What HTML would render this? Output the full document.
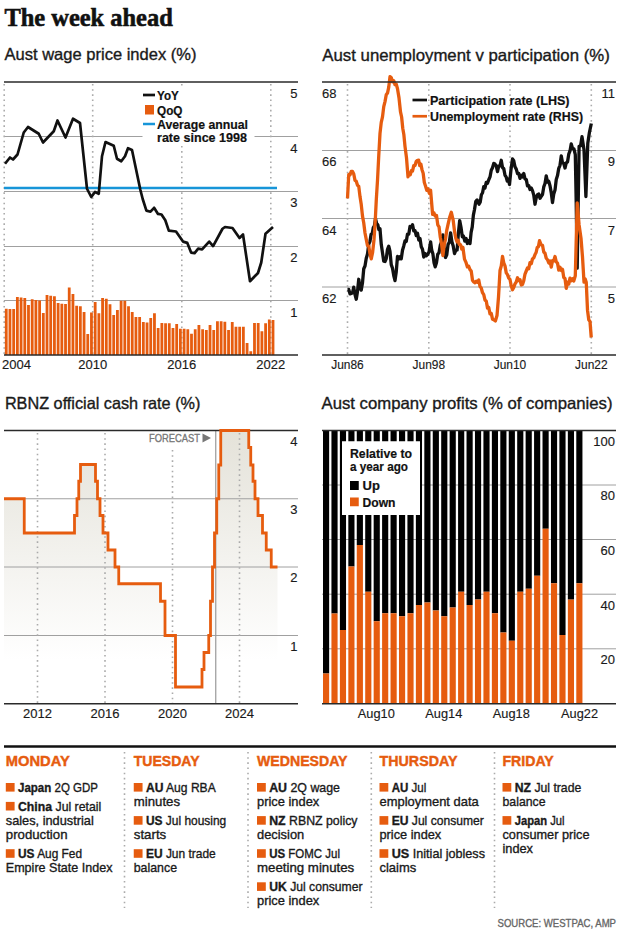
<!DOCTYPE html>
<html><head><meta charset="utf-8"><title>The week ahead</title>
<style>
html,body{margin:0;padding:0;background:#fff;}
body{width:620px;height:932px;overflow:hidden;}
svg{display:block;font-family:"Liberation Sans", sans-serif;}
</style></head><body>
<svg width="620" height="932" viewBox="0 0 620 932">
<rect width="620" height="932" fill="#fff"/>
<text x="4.4" y="26" font-size="25.5" font-weight="bold" font-family='"Liberation Serif", serif' fill="#111" stroke="#111" stroke-width="0.6" text-anchor="start" textLength="168.4" lengthAdjust="spacingAndGlyphs" >The week ahead</text>
<text x="4.5" y="60.3" font-size="16.5" fill="#1a1a1a" stroke="#1a1a1a" stroke-width="0.35" text-anchor="start" textLength="192" lengthAdjust="spacingAndGlyphs" >Aust wage price index (%)</text>
<text x="322.3" y="60.6" font-size="16.5" fill="#1a1a1a" stroke="#1a1a1a" stroke-width="0.35" text-anchor="start" textLength="287.5" lengthAdjust="spacingAndGlyphs" >Aust unemployment v participation (%)</text>
<text x="4.9" y="408.6" font-size="16.5" fill="#1a1a1a" stroke="#1a1a1a" stroke-width="0.35" text-anchor="start" textLength="195.5" lengthAdjust="spacingAndGlyphs" >RBNZ official cash rate (%)</text>
<text x="321.5" y="408.6" font-size="16.5" fill="#1a1a1a" stroke="#1a1a1a" stroke-width="0.35" text-anchor="start" textLength="291" lengthAdjust="spacingAndGlyphs" >Aust company profits (% of companies)</text>
<line x1="4" y1="136.5" x2="298" y2="136.5" stroke="#a0a0a0" stroke-width="1"/>
<line x1="4" y1="191.5" x2="298" y2="191.5" stroke="#a0a0a0" stroke-width="1"/>
<line x1="4" y1="246.5" x2="298" y2="246.5" stroke="#a0a0a0" stroke-width="1"/>
<line x1="4" y1="300.5" x2="298" y2="300.5" stroke="#a0a0a0" stroke-width="1"/>
<line x1="4.2" y1="84" x2="4.2" y2="354" stroke="#ababab" stroke-width="1.6" stroke-dasharray="1.6 3.56"/>
<line x1="92.7" y1="84" x2="92.7" y2="354" stroke="#ababab" stroke-width="1.6" stroke-dasharray="1.6 3.56"/>
<line x1="181.8" y1="84" x2="181.8" y2="354" stroke="#ababab" stroke-width="1.6" stroke-dasharray="1.6 3.56"/>
<line x1="270.8" y1="84" x2="270.8" y2="354" stroke="#ababab" stroke-width="1.6" stroke-dasharray="1.6 3.56"/>
<rect x="4.85" y="308.75" width="2.8" height="46.25" fill="#e65c0f"/>
<rect x="8.55" y="309.00" width="2.8" height="46.00" fill="#e65c0f"/>
<rect x="12.26" y="309.00" width="2.8" height="46.00" fill="#e65c0f"/>
<rect x="15.97" y="297.00" width="2.8" height="58.00" fill="#e65c0f"/>
<rect x="19.67" y="297.50" width="2.8" height="57.50" fill="#e65c0f"/>
<rect x="23.38" y="298.00" width="2.8" height="57.00" fill="#e65c0f"/>
<rect x="27.08" y="305.00" width="2.8" height="50.00" fill="#e65c0f"/>
<rect x="30.79" y="299.25" width="2.8" height="55.75" fill="#e65c0f"/>
<rect x="34.49" y="300.00" width="2.8" height="55.00" fill="#e65c0f"/>
<rect x="38.20" y="300.50" width="2.8" height="54.50" fill="#e65c0f"/>
<rect x="41.90" y="313.00" width="2.8" height="42.00" fill="#e65c0f"/>
<rect x="45.61" y="295.00" width="2.8" height="60.00" fill="#e65c0f"/>
<rect x="49.31" y="295.75" width="2.8" height="59.25" fill="#e65c0f"/>
<rect x="53.02" y="296.25" width="2.8" height="58.75" fill="#e65c0f"/>
<rect x="56.72" y="303.00" width="2.8" height="52.00" fill="#e65c0f"/>
<rect x="60.43" y="303.75" width="2.8" height="51.25" fill="#e65c0f"/>
<rect x="64.13" y="304.00" width="2.8" height="51.00" fill="#e65c0f"/>
<rect x="67.83" y="287.50" width="2.8" height="67.50" fill="#e65c0f"/>
<rect x="71.54" y="294.00" width="2.8" height="61.00" fill="#e65c0f"/>
<rect x="75.24" y="305.75" width="2.8" height="49.25" fill="#e65c0f"/>
<rect x="78.95" y="306.25" width="2.8" height="48.75" fill="#e65c0f"/>
<rect x="82.66" y="312.00" width="2.8" height="43.00" fill="#e65c0f"/>
<rect x="86.36" y="334.00" width="2.8" height="21.00" fill="#e65c0f"/>
<rect x="90.06" y="312.50" width="2.8" height="42.50" fill="#e65c0f"/>
<rect x="93.77" y="302.00" width="2.8" height="53.00" fill="#e65c0f"/>
<rect x="97.47" y="313.25" width="2.8" height="41.75" fill="#e65c0f"/>
<rect x="101.18" y="298.00" width="2.8" height="57.00" fill="#e65c0f"/>
<rect x="104.88" y="298.75" width="2.8" height="56.25" fill="#e65c0f"/>
<rect x="108.59" y="304.25" width="2.8" height="50.75" fill="#e65c0f"/>
<rect x="112.30" y="315.00" width="2.8" height="40.00" fill="#e65c0f"/>
<rect x="116.00" y="310.00" width="2.8" height="45.00" fill="#e65c0f"/>
<rect x="119.70" y="300.75" width="2.8" height="54.25" fill="#e65c0f"/>
<rect x="123.41" y="300.75" width="2.8" height="54.25" fill="#e65c0f"/>
<rect x="127.11" y="306.25" width="2.8" height="48.75" fill="#e65c0f"/>
<rect x="130.82" y="312.00" width="2.8" height="43.00" fill="#e65c0f"/>
<rect x="134.53" y="317.00" width="2.8" height="38.00" fill="#e65c0f"/>
<rect x="138.23" y="317.00" width="2.8" height="38.00" fill="#e65c0f"/>
<rect x="141.94" y="322.00" width="2.8" height="33.00" fill="#e65c0f"/>
<rect x="145.64" y="322.50" width="2.8" height="32.50" fill="#e65c0f"/>
<rect x="149.34" y="318.00" width="2.8" height="37.00" fill="#e65c0f"/>
<rect x="153.05" y="313.25" width="2.8" height="41.75" fill="#e65c0f"/>
<rect x="156.75" y="328.00" width="2.8" height="27.00" fill="#e65c0f"/>
<rect x="160.46" y="323.00" width="2.8" height="32.00" fill="#e65c0f"/>
<rect x="164.16" y="323.25" width="2.8" height="31.75" fill="#e65c0f"/>
<rect x="167.87" y="323.25" width="2.8" height="31.75" fill="#e65c0f"/>
<rect x="171.57" y="328.00" width="2.8" height="27.00" fill="#e65c0f"/>
<rect x="175.28" y="324.00" width="2.8" height="31.00" fill="#e65c0f"/>
<rect x="178.98" y="328.75" width="2.8" height="26.25" fill="#e65c0f"/>
<rect x="182.69" y="328.75" width="2.8" height="26.25" fill="#e65c0f"/>
<rect x="186.40" y="329.25" width="2.8" height="25.75" fill="#e65c0f"/>
<rect x="190.10" y="333.75" width="2.8" height="21.25" fill="#e65c0f"/>
<rect x="193.81" y="329.25" width="2.8" height="25.75" fill="#e65c0f"/>
<rect x="197.51" y="325.00" width="2.8" height="30.00" fill="#e65c0f"/>
<rect x="201.22" y="329.25" width="2.8" height="25.75" fill="#e65c0f"/>
<rect x="204.92" y="330.00" width="2.8" height="25.00" fill="#e65c0f"/>
<rect x="208.62" y="325.00" width="2.8" height="30.00" fill="#e65c0f"/>
<rect x="212.33" y="330.00" width="2.8" height="25.00" fill="#e65c0f"/>
<rect x="216.03" y="321.25" width="2.8" height="33.75" fill="#e65c0f"/>
<rect x="219.74" y="321.25" width="2.8" height="33.75" fill="#e65c0f"/>
<rect x="223.44" y="321.75" width="2.8" height="33.25" fill="#e65c0f"/>
<rect x="227.15" y="330.00" width="2.8" height="25.00" fill="#e65c0f"/>
<rect x="230.85" y="322.00" width="2.8" height="33.00" fill="#e65c0f"/>
<rect x="234.56" y="326.75" width="2.8" height="28.25" fill="#e65c0f"/>
<rect x="238.26" y="326.75" width="2.8" height="28.25" fill="#e65c0f"/>
<rect x="241.97" y="326.75" width="2.8" height="28.25" fill="#e65c0f"/>
<rect x="245.68" y="343.00" width="2.8" height="12.00" fill="#e65c0f"/>
<rect x="249.38" y="351.25" width="2.8" height="3.75" fill="#e65c0f"/>
<rect x="253.09" y="323.00" width="2.8" height="32.00" fill="#e65c0f"/>
<rect x="256.79" y="323.00" width="2.8" height="32.00" fill="#e65c0f"/>
<rect x="260.50" y="331.25" width="2.8" height="23.75" fill="#e65c0f"/>
<rect x="264.20" y="323.25" width="2.8" height="31.75" fill="#e65c0f"/>
<rect x="267.91" y="319.50" width="2.8" height="35.50" fill="#e65c0f"/>
<rect x="271.61" y="320.00" width="2.8" height="35.00" fill="#e65c0f"/>
<rect x="142.5" y="86" width="112" height="58" fill="#fff"/>
<line x1="4" y1="188" x2="277" y2="188" stroke="#1795d8" stroke-width="2.5"/>
<polyline points="5.00,163.75 10.00,157.50 13.00,159.50 17.50,154.50 23.75,132.50 28.00,127.00 38.75,133.75 43.00,142.50 53.75,131.25 57.50,120.50 65.50,137.50 73.00,118.75 80.00,123.00 87.00,188.75 91.25,197.00 95.00,192.00 98.75,193.75 102.00,156.25 105.50,142.00 113.75,145.75 117.00,158.75 121.25,161.25 125.00,156.25 128.00,148.25 132.00,150.00 140.40,190.00 142.70,199.00 146.40,210.60 150.50,211.70 154.10,207.80 158.00,213.90 161.50,214.50 165.30,220.30 168.80,230.60 176.00,231.50 183.00,241.60 187.30,242.90 191.10,252.60 194.60,253.20 198.20,248.70 202.10,249.40 209.20,241.60 213.10,246.10 222.50,228.75 225.00,227.00 232.50,228.00 239.50,238.00 243.00,234.50 250.00,281.25 258.00,273.00 261.25,262.50 265.50,233.75 273.00,227.00" fill="none" stroke="#111" stroke-width="2.7" stroke-linejoin="round"/>
<line x1="4" y1="82" x2="298" y2="82" stroke="#2a2a2a" stroke-width="1.35"/>
<line x1="4" y1="355" x2="298" y2="355" stroke="#2a2a2a" stroke-width="1.35"/>
<line x1="143" y1="95" x2="155" y2="95" stroke="#111" stroke-width="2.7"/>
<rect x="145" y="105" width="9" height="9.5" fill="#e65c0f"/>
<line x1="143" y1="124" x2="155" y2="124" stroke="#1795d8" stroke-width="2.5"/>
<text x="157" y="99.5" font-size="13" font-weight="bold" fill="#111" stroke="#111" stroke-width="0.2" text-anchor="start" textLength="21.75" lengthAdjust="spacingAndGlyphs" >YoY</text>
<text x="157" y="114.5" font-size="13" font-weight="bold" fill="#111" stroke="#111" stroke-width="0.2" text-anchor="start" textLength="25.5" lengthAdjust="spacingAndGlyphs" >QoQ</text>
<text x="157" y="129" font-size="13" font-weight="bold" fill="#111" stroke="#111" stroke-width="0.2" text-anchor="start" textLength="91" lengthAdjust="spacingAndGlyphs" >Average annual</text>
<text x="157" y="142" font-size="13" font-weight="bold" fill="#111" stroke="#111" stroke-width="0.2" text-anchor="start" textLength="90" lengthAdjust="spacingAndGlyphs" >rate since 1998</text>
<text x="297.5" y="98" font-size="13" fill="#1a1a1a" stroke="#1a1a1a" stroke-width="0.15" text-anchor="end" >5</text>
<text x="297.5" y="152.5" font-size="13" fill="#1a1a1a" stroke="#1a1a1a" stroke-width="0.15" text-anchor="end" >4</text>
<text x="297.5" y="207" font-size="13" fill="#1a1a1a" stroke="#1a1a1a" stroke-width="0.15" text-anchor="end" >3</text>
<text x="297.5" y="262" font-size="13" fill="#1a1a1a" stroke="#1a1a1a" stroke-width="0.15" text-anchor="end" >2</text>
<text x="297.5" y="316.5" font-size="13" fill="#1a1a1a" stroke="#1a1a1a" stroke-width="0.15" text-anchor="end" >1</text>
<text x="16.5" y="369.3" font-size="13" fill="#1a1a1a" stroke="#1a1a1a" stroke-width="0.15" text-anchor="middle" >2004</text>
<text x="92.7" y="369.3" font-size="13" fill="#1a1a1a" stroke="#1a1a1a" stroke-width="0.15" text-anchor="middle" >2010</text>
<text x="181.8" y="369.3" font-size="13" fill="#1a1a1a" stroke="#1a1a1a" stroke-width="0.15" text-anchor="middle" >2016</text>
<text x="270.8" y="369.3" font-size="13" fill="#1a1a1a" stroke="#1a1a1a" stroke-width="0.15" text-anchor="middle" >2022</text>
<line x1="322" y1="150.5" x2="616" y2="150.5" stroke="#a0a0a0" stroke-width="1"/>
<line x1="322" y1="218.5" x2="616" y2="218.5" stroke="#a0a0a0" stroke-width="1"/>
<line x1="322" y1="287" x2="616" y2="287" stroke="#a0a0a0" stroke-width="1"/>
<line x1="347.5" y1="84" x2="347.5" y2="354" stroke="#ababab" stroke-width="1.6" stroke-dasharray="1.6 3.56"/>
<line x1="428.8" y1="84" x2="428.8" y2="354" stroke="#ababab" stroke-width="1.6" stroke-dasharray="1.6 3.56"/>
<line x1="510" y1="84" x2="510" y2="354" stroke="#ababab" stroke-width="1.6" stroke-dasharray="1.6 3.56"/>
<line x1="591.3" y1="84" x2="591.3" y2="354" stroke="#ababab" stroke-width="1.6" stroke-dasharray="1.6 3.56"/>
<polyline points="347.50,289.47 348.75,289.44 350.00,293.93 351.25,293.47 352.50,292.83 353.75,287.16 355.00,294.60 356.25,299.21 357.50,291.40 358.75,279.28 360.00,288.02 361.25,290.02 362.50,282.67 363.75,268.75 365.00,265.98 366.25,258.22 367.50,254.10 368.75,244.14 370.00,241.35 371.10,234.17 372.20,233.68 373.30,227.66 374.40,225.87 375.50,218.50 376.62,223.36 377.75,224.73 378.88,229.60 380.00,228.76 381.25,244.28 382.50,252.87 383.75,261.15 385.00,261.52 386.25,258.57 387.50,249.29 388.75,246.18 390.00,251.49 391.25,264.63 392.50,268.34 393.75,275.50 395.00,280.57 396.25,271.70 397.50,256.34 398.75,259.08 400.00,256.64 401.25,258.82 402.50,250.20 403.75,245.97 405.00,241.01 406.25,241.49 407.50,234.06 408.75,234.20 410.00,226.51 411.25,227.08 412.50,224.70 413.75,230.84 415.00,230.69 416.25,235.53 417.50,233.30 418.75,240.00 420.00,238.55 421.25,246.77 422.50,249.34 423.75,257.03 425.00,253.54 426.25,255.83 427.50,254.66 429.05,251.68 430.60,241.82 431.75,250.39 432.90,253.84 434.05,262.70 435.20,266.87 436.47,262.65 437.73,254.31 439.00,252.72 440.30,245.17 441.60,241.89 442.90,234.90 444.20,248.58 445.50,257.47 446.77,254.74 448.05,244.44 449.33,242.31 450.60,232.80 451.90,241.68 453.20,246.03 454.50,253.52 455.80,250.43 457.10,250.03 458.40,233.10 459.70,220.54 461.00,227.21 462.30,236.79 463.55,236.29 464.80,241.19 466.10,238.49 467.40,243.47 468.70,240.77 470.00,243.51 471.12,232.41 472.25,226.82 473.38,215.14 474.50,209.53 475.80,201.34 477.10,199.97 479.00,204.18 480.19,202.15 481.38,194.72 482.56,192.72 483.75,186.64 485.00,187.98 486.25,182.40 487.50,183.28 488.75,179.77 490.00,176.95 491.25,170.19 492.50,167.74 493.75,163.45 495.00,164.09 496.25,165.92 497.50,171.58 498.75,165.86 500.00,165.86 501.25,160.27 502.50,167.59 503.75,168.59 505.00,175.25 506.12,176.85 507.25,181.06 508.38,179.24 509.50,184.50 511.00,169.42 512.50,159.00 513.75,160.76 515.00,166.83 516.25,169.11 517.50,173.51 518.75,173.49 520.00,178.36 521.25,175.22 522.50,176.90 523.75,173.49 525.00,178.95 526.25,179.43 527.50,185.88 528.75,185.56 530.00,189.47 531.25,188.02 532.50,190.61 533.75,195.09 535.00,204.24 536.25,197.70 537.50,194.66 538.75,194.07 540.00,198.28 541.25,196.34 542.50,194.58 543.75,186.93 545.00,183.44 546.25,175.87 547.50,182.15 548.75,181.31 550.00,185.70 551.25,192.66 552.50,202.62 553.75,194.07 555.00,190.10 556.25,179.52 557.50,175.60 558.75,168.35 560.00,165.31 561.25,155.89 562.50,162.81 563.75,163.21 565.00,167.99 566.25,162.91 567.50,161.95 568.75,154.20 570.00,150.96 571.25,143.88 572.60,148.62 573.95,148.90 575.30,154.73 576.20,202.16 577.20,268.21 579.10,146.32 580.55,145.94 582.00,136.63 584.00,149.76 585.90,196.51 587.80,143.14 589.40,132.51 591.30,123.50" fill="none" stroke="#111" stroke-width="3.3" stroke-linejoin="round"/>
<polyline points="347.50,198.41 348.75,174.47 350.00,174.97 351.25,171.31 352.50,171.38 353.75,174.00 355.00,180.33 356.25,181.18 357.50,185.28 358.75,186.35 360.00,196.60 361.25,204.60 362.50,216.13 363.75,222.98 365.00,232.97 366.25,239.31 367.50,245.75 368.75,246.05 370.00,253.97 371.25,258.93 372.62,252.35 374.00,239.70 375.17,222.09 376.33,199.16 377.50,180.52 378.75,155.79 380.00,133.38 381.25,122.38 382.50,116.85 383.75,106.65 385.00,101.61 386.25,94.81 387.50,93.07 388.75,87.16 390.00,76.58 391.25,77.47 392.50,81.70 393.75,80.73 395.00,84.64 396.25,84.14 397.50,88.70 399.00,97.89 400.50,111.95 401.62,117.01 402.75,128.24 403.88,134.79 405.00,146.36 406.50,157.87 408.00,176.80 409.12,172.92 410.25,174.86 411.38,170.79 412.50,171.12 413.75,165.63 415.00,165.53 416.25,161.22 417.50,160.29 418.62,160.20 419.75,165.63 420.88,164.16 422.00,169.63 423.17,173.28 424.33,182.56 425.50,185.99 426.77,190.25 428.05,188.85 429.33,193.37 430.60,190.32 432.60,214.44 433.90,212.84 435.20,216.13 436.50,215.36 437.77,224.76 439.03,226.78 440.30,237.21 441.60,244.02 442.90,255.55 444.20,245.08 445.50,239.25 446.80,230.03 448.10,224.07 449.70,217.24 451.30,212.23 453.20,220.41 454.50,231.13 455.80,238.26 456.98,241.79 458.17,240.35 459.35,244.58 460.53,244.75 461.72,249.08 462.90,247.26 464.50,259.10 466.10,262.70 467.40,266.91 468.70,266.29 470.00,269.69 471.25,271.15 472.50,280.21 473.75,281.97 475.00,282.78 476.25,281.16 477.50,282.28 478.75,279.98 480.00,286.50 481.25,287.97 482.50,292.71 483.75,294.71 485.00,300.18 486.25,301.05 487.50,308.13 488.75,307.45 490.00,313.83 491.25,313.44 492.50,319.19 493.75,319.68 495.38,320.93 497.00,315.58 498.50,297.12 500.00,270.54 501.25,266.06 502.50,256.42 503.75,262.93 505.00,265.90 506.25,272.84 507.50,274.65 508.75,278.16 510.00,279.44 511.25,285.95 512.50,289.68 513.75,287.39 515.00,283.84 516.25,281.99 517.50,277.75 518.75,280.57 520.00,279.75 521.25,284.99 522.50,284.47 523.75,280.75 525.00,274.04 526.25,271.00 527.50,267.86 528.75,268.73 530.00,262.62 531.25,263.73 532.50,258.74 533.75,257.89 535.00,254.58 536.12,252.52 537.25,247.34 538.38,246.71 539.50,240.69 541.00,244.63 542.50,245.21 543.75,251.99 545.00,253.23 546.25,258.27 547.50,259.74 548.75,263.03 550.00,260.98 551.25,267.10 552.50,260.77 553.75,260.77 555.00,256.49 556.25,261.82 557.50,263.10 558.75,270.12 560.00,267.25 561.25,270.51 562.50,269.31 563.75,277.40 565.00,278.47 566.25,288.33 567.50,282.19 568.75,284.08 570.00,278.17 571.25,280.70 572.50,278.66 573.75,280.98 575.30,275.74 577.20,202.96 579.10,224.99 581.00,238.17 582.50,256.93 584.00,282.20 585.12,278.77 586.25,282.26 587.50,310.13 588.75,319.80 590.00,321.50 591.25,337.50" fill="none" stroke="#e65c0f" stroke-width="3.3" stroke-linejoin="round"/>
<line x1="322" y1="82" x2="616" y2="82" stroke="#2a2a2a" stroke-width="1.35"/>
<line x1="322" y1="355" x2="616" y2="355" stroke="#2a2a2a" stroke-width="1.35"/>
<line x1="412.5" y1="100" x2="427" y2="100" stroke="#111" stroke-width="2.7"/>
<line x1="412.5" y1="116.25" x2="427" y2="116.25" stroke="#e65c0f" stroke-width="2.7"/>
<text x="430" y="104.5" font-size="13" font-weight="bold" fill="#111" stroke="#111" stroke-width="0.2" text-anchor="start" textLength="139.5" lengthAdjust="spacingAndGlyphs" >Participation rate (LHS)</text>
<text x="430" y="121" font-size="13" font-weight="bold" fill="#111" stroke="#111" stroke-width="0.2" text-anchor="start" textLength="153" lengthAdjust="spacingAndGlyphs" >Unemployment rate (RHS)</text>
<text x="322" y="98" font-size="13" fill="#1a1a1a" stroke="#1a1a1a" stroke-width="0.15" text-anchor="start" >68</text>
<text x="322" y="166.3" font-size="13" fill="#1a1a1a" stroke="#1a1a1a" stroke-width="0.15" text-anchor="start" >66</text>
<text x="322" y="234.5" font-size="13" fill="#1a1a1a" stroke="#1a1a1a" stroke-width="0.15" text-anchor="start" >64</text>
<text x="322" y="303" font-size="13" fill="#1a1a1a" stroke="#1a1a1a" stroke-width="0.15" text-anchor="start" >62</text>
<text x="615" y="98" font-size="13" fill="#1a1a1a" stroke="#1a1a1a" stroke-width="0.15" text-anchor="end" >11</text>
<text x="615" y="166.3" font-size="13" fill="#1a1a1a" stroke="#1a1a1a" stroke-width="0.15" text-anchor="end" >9</text>
<text x="615" y="234.5" font-size="13" fill="#1a1a1a" stroke="#1a1a1a" stroke-width="0.15" text-anchor="end" >7</text>
<text x="615" y="303" font-size="13" fill="#1a1a1a" stroke="#1a1a1a" stroke-width="0.15" text-anchor="end" >5</text>
<text x="347.5" y="369.3" font-size="13" fill="#1a1a1a" stroke="#1a1a1a" stroke-width="0.15" text-anchor="middle" textLength="32.5" lengthAdjust="spacingAndGlyphs" >Jun86</text>
<text x="428.8" y="369.3" font-size="13" fill="#1a1a1a" stroke="#1a1a1a" stroke-width="0.15" text-anchor="middle" textLength="32.5" lengthAdjust="spacingAndGlyphs" >Jun98</text>
<text x="510" y="369.3" font-size="13" fill="#1a1a1a" stroke="#1a1a1a" stroke-width="0.15" text-anchor="middle" textLength="32.5" lengthAdjust="spacingAndGlyphs" >Jun10</text>
<text x="591.3" y="369.3" font-size="13" fill="#1a1a1a" stroke="#1a1a1a" stroke-width="0.15" text-anchor="middle" textLength="32.5" lengthAdjust="spacingAndGlyphs" >Jun22</text>
<defs><linearGradient id="g3" x1="0" y1="430" x2="0" y2="660" gradientUnits="userSpaceOnUse"><stop offset="0" stop-color="#e4e2d9"/><stop offset="1" stop-color="#ffffff"/></linearGradient></defs>
<polygon points="4.00,498.75 24.25,498.75 24.25,533.00 74.50,533.00 74.50,515.50 77.00,515.50 77.00,498.75 78.75,498.75 78.75,481.25 80.50,481.25 80.50,464.50 95.50,464.50 95.50,481.25 97.50,481.25 97.50,498.75 100.00,498.75 100.00,515.50 103.00,515.50 103.00,533.00 108.00,533.00 108.00,550.00 115.00,550.00 115.00,567.00 118.75,567.00 118.75,583.75 160.50,583.75 160.50,601.25 165.00,601.25 165.00,635.50 175.50,635.50 175.50,687.00 202.00,687.00 202.00,669.50 204.00,669.50 204.00,652.50 208.75,652.50 208.75,635.50 210.50,635.50 210.50,601.25 212.50,601.25 212.50,567.00 214.50,567.00 214.50,533.00 216.75,533.00 216.75,498.75 218.75,498.75 218.75,465.00 220.75,465.00 220.75,430.50 248.75,430.50 248.75,447.50 250.75,447.50 250.75,465.00 253.00,465.00 253.00,481.25 255.00,481.25 255.00,498.75 258.00,498.75 258.00,515.50 262.50,515.50 262.50,533.00 266.25,533.00 266.25,550.00 271.25,550.00 271.25,567.00 277.50,567.00 277.50,703.75 4.00,703.75" fill="url(#g3)"/>
<line x1="4" y1="498.75" x2="298" y2="498.75" stroke="#a0a0a0" stroke-width="1"/>
<line x1="4" y1="567" x2="298" y2="567" stroke="#a0a0a0" stroke-width="1"/>
<line x1="4" y1="635.5" x2="298" y2="635.5" stroke="#a0a0a0" stroke-width="1"/>
<line x1="37.5" y1="433" x2="37.5" y2="703" stroke="#ababab" stroke-width="1.6" stroke-dasharray="1.6 3.56"/>
<line x1="105" y1="433" x2="105" y2="703" stroke="#ababab" stroke-width="1.6" stroke-dasharray="1.6 3.56"/>
<line x1="239.5" y1="433" x2="239.5" y2="703" stroke="#ababab" stroke-width="1.6" stroke-dasharray="1.6 3.56"/>
<line x1="172.5" y1="450" x2="172.5" y2="703" stroke="#ababab" stroke-width="1.6" stroke-dasharray="1.6 3.56"/>
<line x1="215.75" y1="430.5" x2="215.75" y2="703.75" stroke="#999" stroke-width="1.2"/>
<line x1="4" y1="430.5" x2="298" y2="430.5" stroke="#2a2a2a" stroke-width="1.35"/>
<line x1="4" y1="703.75" x2="298" y2="703.75" stroke="#2a2a2a" stroke-width="1.35"/>
<polyline points="4.00,498.75 24.25,498.75 24.25,533.00 74.50,533.00 74.50,515.50 77.00,515.50 77.00,498.75 78.75,498.75 78.75,481.25 80.50,481.25 80.50,464.50 95.50,464.50 95.50,481.25 97.50,481.25 97.50,498.75 100.00,498.75 100.00,515.50 103.00,515.50 103.00,533.00 108.00,533.00 108.00,550.00 115.00,550.00 115.00,567.00 118.75,567.00 118.75,583.75 160.50,583.75 160.50,601.25 165.00,601.25 165.00,635.50 175.50,635.50 175.50,687.00 202.00,687.00 202.00,669.50 204.00,669.50 204.00,652.50 208.75,652.50 208.75,635.50 210.50,635.50 210.50,601.25 212.50,601.25 212.50,567.00 214.50,567.00 214.50,533.00 216.75,533.00 216.75,498.75 218.75,498.75 218.75,465.00 220.75,465.00 220.75,430.50 248.75,430.50 248.75,447.50 250.75,447.50 250.75,465.00 253.00,465.00 253.00,481.25 255.00,481.25 255.00,498.75 258.00,498.75 258.00,515.50 262.50,515.50 262.50,533.00 266.25,533.00 266.25,550.00 271.25,550.00 271.25,567.00 277.50,567.00" fill="none" stroke="#e65c0f" stroke-width="2.8" stroke-linejoin="miter"/>
<text x="149" y="442" font-size="11.5" fill="#777" stroke="#777" stroke-width="0.35" text-anchor="start" textLength="51" lengthAdjust="spacingAndGlyphs" >FORECAST</text>
<path d="M202.5,433.5 L211,438 L202.5,442.5 Z" fill="#777"/>
<text x="297.5" y="445.9" font-size="13" fill="#1a1a1a" stroke="#1a1a1a" stroke-width="0.15" text-anchor="end" >4</text>
<text x="297.5" y="514.2" font-size="13" fill="#1a1a1a" stroke="#1a1a1a" stroke-width="0.15" text-anchor="end" >3</text>
<text x="297.5" y="582.4" font-size="13" fill="#1a1a1a" stroke="#1a1a1a" stroke-width="0.15" text-anchor="end" >2</text>
<text x="297.5" y="650.9" font-size="13" fill="#1a1a1a" stroke="#1a1a1a" stroke-width="0.15" text-anchor="end" >1</text>
<text x="37.5" y="718" font-size="13" fill="#1a1a1a" stroke="#1a1a1a" stroke-width="0.15" text-anchor="middle" >2012</text>
<text x="105" y="718" font-size="13" fill="#1a1a1a" stroke="#1a1a1a" stroke-width="0.15" text-anchor="middle" >2016</text>
<text x="172.5" y="718" font-size="13" fill="#1a1a1a" stroke="#1a1a1a" stroke-width="0.15" text-anchor="middle" >2020</text>
<text x="239.5" y="718" font-size="13" fill="#1a1a1a" stroke="#1a1a1a" stroke-width="0.15" text-anchor="middle" >2024</text>
<line x1="322" y1="485" x2="616" y2="485" stroke="#a0a0a0" stroke-width="1"/>
<line x1="322" y1="539.5" x2="616" y2="539.5" stroke="#a0a0a0" stroke-width="1"/>
<line x1="322" y1="594.2" x2="616" y2="594.2" stroke="#a0a0a0" stroke-width="1"/>
<line x1="322" y1="648.8" x2="616" y2="648.8" stroke="#a0a0a0" stroke-width="1"/>
<rect x="323.00" y="430.5" width="6.15" height="243.00" fill="#000"/>
<rect x="323.00" y="673.50" width="6.15" height="30.25" fill="#e65c0f"/>
<rect x="331.44" y="430.5" width="6.15" height="183.00" fill="#000"/>
<rect x="331.44" y="613.50" width="6.15" height="90.25" fill="#e65c0f"/>
<rect x="339.89" y="430.5" width="6.15" height="199.50" fill="#000"/>
<rect x="339.89" y="630.00" width="6.15" height="73.75" fill="#e65c0f"/>
<rect x="348.33" y="430.5" width="6.15" height="136.00" fill="#000"/>
<rect x="348.33" y="566.50" width="6.15" height="137.25" fill="#e65c0f"/>
<rect x="356.77" y="430.5" width="6.15" height="114.50" fill="#000"/>
<rect x="356.77" y="545.00" width="6.15" height="158.75" fill="#e65c0f"/>
<rect x="365.21" y="430.5" width="6.15" height="161.25" fill="#000"/>
<rect x="365.21" y="591.75" width="6.15" height="112.00" fill="#e65c0f"/>
<rect x="373.66" y="430.5" width="6.15" height="190.75" fill="#000"/>
<rect x="373.66" y="621.25" width="6.15" height="82.50" fill="#e65c0f"/>
<rect x="382.10" y="430.5" width="6.15" height="182.75" fill="#000"/>
<rect x="382.10" y="613.25" width="6.15" height="90.50" fill="#e65c0f"/>
<rect x="390.54" y="430.5" width="6.15" height="182.75" fill="#000"/>
<rect x="390.54" y="613.25" width="6.15" height="90.50" fill="#e65c0f"/>
<rect x="398.99" y="430.5" width="6.15" height="185.75" fill="#000"/>
<rect x="398.99" y="616.25" width="6.15" height="87.50" fill="#e65c0f"/>
<rect x="407.43" y="430.5" width="6.15" height="182.75" fill="#000"/>
<rect x="407.43" y="613.25" width="6.15" height="90.50" fill="#e65c0f"/>
<rect x="415.87" y="430.5" width="6.15" height="174.50" fill="#000"/>
<rect x="415.87" y="605.00" width="6.15" height="98.75" fill="#e65c0f"/>
<rect x="424.32" y="430.5" width="6.15" height="172.00" fill="#000"/>
<rect x="424.32" y="602.50" width="6.15" height="101.25" fill="#e65c0f"/>
<rect x="432.76" y="430.5" width="6.15" height="180.00" fill="#000"/>
<rect x="432.76" y="610.50" width="6.15" height="93.25" fill="#e65c0f"/>
<rect x="441.20" y="430.5" width="6.15" height="185.75" fill="#000"/>
<rect x="441.20" y="616.25" width="6.15" height="87.50" fill="#e65c0f"/>
<rect x="449.64" y="430.5" width="6.15" height="177.00" fill="#000"/>
<rect x="449.64" y="607.50" width="6.15" height="96.25" fill="#e65c0f"/>
<rect x="458.09" y="430.5" width="6.15" height="161.25" fill="#000"/>
<rect x="458.09" y="591.75" width="6.15" height="112.00" fill="#e65c0f"/>
<rect x="466.53" y="430.5" width="6.15" height="174.50" fill="#000"/>
<rect x="466.53" y="605.00" width="6.15" height="98.75" fill="#e65c0f"/>
<rect x="474.97" y="430.5" width="6.15" height="169.00" fill="#000"/>
<rect x="474.97" y="599.50" width="6.15" height="104.25" fill="#e65c0f"/>
<rect x="483.42" y="430.5" width="6.15" height="161.25" fill="#000"/>
<rect x="483.42" y="591.75" width="6.15" height="112.00" fill="#e65c0f"/>
<rect x="491.86" y="430.5" width="6.15" height="182.75" fill="#000"/>
<rect x="491.86" y="613.25" width="6.15" height="90.50" fill="#e65c0f"/>
<rect x="500.30" y="430.5" width="6.15" height="202.00" fill="#000"/>
<rect x="500.30" y="632.50" width="6.15" height="71.25" fill="#e65c0f"/>
<rect x="508.75" y="430.5" width="6.15" height="210.25" fill="#000"/>
<rect x="508.75" y="640.75" width="6.15" height="63.00" fill="#e65c0f"/>
<rect x="517.19" y="430.5" width="6.15" height="161.25" fill="#000"/>
<rect x="517.19" y="591.75" width="6.15" height="112.00" fill="#e65c0f"/>
<rect x="525.63" y="430.5" width="6.15" height="158.25" fill="#000"/>
<rect x="525.63" y="588.75" width="6.15" height="115.00" fill="#e65c0f"/>
<rect x="534.08" y="430.5" width="6.15" height="145.25" fill="#000"/>
<rect x="534.08" y="575.75" width="6.15" height="128.00" fill="#e65c0f"/>
<rect x="542.52" y="430.5" width="6.15" height="98.25" fill="#000"/>
<rect x="542.52" y="528.75" width="6.15" height="175.00" fill="#e65c0f"/>
<rect x="550.96" y="430.5" width="6.15" height="152.75" fill="#000"/>
<rect x="550.96" y="583.25" width="6.15" height="120.50" fill="#e65c0f"/>
<rect x="559.40" y="430.5" width="6.15" height="204.50" fill="#000"/>
<rect x="559.40" y="635.00" width="6.15" height="68.75" fill="#e65c0f"/>
<rect x="567.85" y="430.5" width="6.15" height="169.10" fill="#000"/>
<rect x="567.85" y="599.60" width="6.15" height="104.15" fill="#e65c0f"/>
<rect x="576.29" y="430.5" width="6.15" height="152.75" fill="#000"/>
<rect x="576.29" y="583.25" width="6.15" height="120.50" fill="#e65c0f"/>
<line x1="322" y1="430.5" x2="616" y2="430.5" stroke="#2a2a2a" stroke-width="1.35"/>
<line x1="322" y1="703.75" x2="616" y2="703.75" stroke="#2a2a2a" stroke-width="1.35"/>
<rect x="342" y="441.25" width="78" height="73.75" fill="#fff"/>
<text x="350" y="458" font-size="13" font-weight="bold" fill="#111" stroke="#111" stroke-width="0.2" text-anchor="start" textLength="62" lengthAdjust="spacingAndGlyphs" >Relative to</text>
<text x="350" y="470.5" font-size="13" font-weight="bold" fill="#111" stroke="#111" stroke-width="0.2" text-anchor="start" textLength="58" lengthAdjust="spacingAndGlyphs" >a year ago</text>
<rect x="350" y="481" width="8.75" height="9" fill="#000"/>
<text x="362.5" y="490" font-size="13" font-weight="bold" fill="#111" stroke="#111" stroke-width="0.2" text-anchor="start" >Up</text>
<rect x="350" y="497.5" width="8.75" height="8.75" fill="#e65c0f"/>
<text x="362.5" y="506.5" font-size="13" font-weight="bold" fill="#111" stroke="#111" stroke-width="0.2" text-anchor="start" textLength="33" lengthAdjust="spacingAndGlyphs" >Down</text>
<text x="615" y="445.9" font-size="13" fill="#1a1a1a" stroke="#1a1a1a" stroke-width="0.15" text-anchor="end" >100</text>
<text x="615" y="500.4" font-size="13" fill="#1a1a1a" stroke="#1a1a1a" stroke-width="0.15" text-anchor="end" >80</text>
<text x="615" y="554.9" font-size="13" fill="#1a1a1a" stroke="#1a1a1a" stroke-width="0.15" text-anchor="end" >60</text>
<text x="615" y="609.6" font-size="13" fill="#1a1a1a" stroke="#1a1a1a" stroke-width="0.15" text-anchor="end" >40</text>
<text x="615" y="664.2" font-size="13" fill="#1a1a1a" stroke="#1a1a1a" stroke-width="0.15" text-anchor="end" >20</text>
<text x="376.25" y="718" font-size="13" fill="#1a1a1a" stroke="#1a1a1a" stroke-width="0.15" text-anchor="middle" textLength="37" lengthAdjust="spacingAndGlyphs" >Aug10</text>
<text x="443.75" y="718" font-size="13" fill="#1a1a1a" stroke="#1a1a1a" stroke-width="0.15" text-anchor="middle" textLength="37" lengthAdjust="spacingAndGlyphs" >Aug14</text>
<text x="511.25" y="718" font-size="13" fill="#1a1a1a" stroke="#1a1a1a" stroke-width="0.15" text-anchor="middle" textLength="37" lengthAdjust="spacingAndGlyphs" >Aug18</text>
<text x="579.5" y="718" font-size="13" fill="#1a1a1a" stroke="#1a1a1a" stroke-width="0.15" text-anchor="middle" textLength="37" lengthAdjust="spacingAndGlyphs" >Aug22</text>
<line x1="4" y1="746.5" x2="616" y2="746.5" stroke="#111" stroke-width="2.6"/>
<line x1="124.5" y1="752" x2="124.5" y2="908" stroke="#ababab" stroke-width="1.6" stroke-dasharray="1.6 3.56"/>
<line x1="248" y1="752" x2="248" y2="908" stroke="#ababab" stroke-width="1.6" stroke-dasharray="1.6 3.56"/>
<line x1="371.3" y1="752" x2="371.3" y2="908" stroke="#ababab" stroke-width="1.6" stroke-dasharray="1.6 3.56"/>
<line x1="494.5" y1="752" x2="494.5" y2="908" stroke="#ababab" stroke-width="1.6" stroke-dasharray="1.6 3.56"/>
<text x="5.8" y="765.8" font-size="15.2" font-weight="bold" fill="#e65c0f" stroke="#e65c0f" stroke-width="0.45" text-anchor="start" textLength="64" lengthAdjust="spacingAndGlyphs" >MONDAY</text>
<text x="133.75" y="765.8" font-size="15.2" font-weight="bold" fill="#e65c0f" stroke="#e65c0f" stroke-width="0.45" text-anchor="start" textLength="65.75" lengthAdjust="spacingAndGlyphs" >TUESDAY</text>
<text x="257" y="765.8" font-size="15.2" font-weight="bold" fill="#e65c0f" stroke="#e65c0f" stroke-width="0.45" text-anchor="start" textLength="90.5" lengthAdjust="spacingAndGlyphs" >WEDNESDAY</text>
<text x="379.5" y="765.8" font-size="15.2" font-weight="bold" fill="#e65c0f" stroke="#e65c0f" stroke-width="0.45" text-anchor="start" textLength="78" lengthAdjust="spacingAndGlyphs" >THURSDAY</text>
<text x="502.5" y="765.8" font-size="15.2" font-weight="bold" fill="#e65c0f" stroke="#e65c0f" stroke-width="0.45" text-anchor="start" textLength="51.25" lengthAdjust="spacingAndGlyphs" >FRIDAY</text>
<rect x="5.8" y="783.00" width="8.8" height="8.6" fill="#e65c0f"/>
<text x="18.0" y="791.60" font-size="12.8" fill="#1a1a1a" stroke="#1a1a1a" stroke-width="0.35" textLength="80.00" lengthAdjust="spacingAndGlyphs"><tspan font-weight="bold">Japan</tspan> 2Q GDP</text>
<rect x="5.8" y="801.90" width="8.8" height="8.6" fill="#e65c0f"/>
<text x="18.0" y="810.50" font-size="12.8" fill="#1a1a1a" stroke="#1a1a1a" stroke-width="0.35" textLength="83.25" lengthAdjust="spacingAndGlyphs"><tspan font-weight="bold">China</tspan> Jul retail</text>
<text x="5.8" y="824.70" font-size="12.8" fill="#1a1a1a" stroke="#1a1a1a" stroke-width="0.35" textLength="87.95" lengthAdjust="spacingAndGlyphs">sales, industrial</text>
<text x="5.8" y="838.90" font-size="12.8" fill="#1a1a1a" stroke="#1a1a1a" stroke-width="0.35" textLength="61.70" lengthAdjust="spacingAndGlyphs">production</text>
<rect x="5.8" y="849.20" width="8.8" height="8.6" fill="#e65c0f"/>
<text x="18.0" y="857.80" font-size="12.8" fill="#1a1a1a" stroke="#1a1a1a" stroke-width="0.35" textLength="64.00" lengthAdjust="spacingAndGlyphs"><tspan font-weight="bold">US</tspan> Aug Fed</text>
<text x="5.8" y="872.00" font-size="12.8" fill="#1a1a1a" stroke="#1a1a1a" stroke-width="0.35" textLength="106.70" lengthAdjust="spacingAndGlyphs">Empire State Index</text>
<rect x="133.75" y="783.00" width="8.8" height="8.6" fill="#e65c0f"/>
<text x="145.95" y="791.60" font-size="12.8" fill="#1a1a1a" stroke="#1a1a1a" stroke-width="0.35" textLength="69.80" lengthAdjust="spacingAndGlyphs"><tspan font-weight="bold">AU</tspan> Aug RBA</text>
<text x="133.75" y="805.80" font-size="12.8" fill="#1a1a1a" stroke="#1a1a1a" stroke-width="0.35" textLength="46.25" lengthAdjust="spacingAndGlyphs">minutes</text>
<rect x="133.75" y="816.10" width="8.8" height="8.6" fill="#e65c0f"/>
<text x="145.95" y="824.70" font-size="12.8" fill="#1a1a1a" stroke="#1a1a1a" stroke-width="0.35" textLength="80.30" lengthAdjust="spacingAndGlyphs"><tspan font-weight="bold">US</tspan> Jul housing</text>
<text x="133.75" y="838.90" font-size="12.8" fill="#1a1a1a" stroke="#1a1a1a" stroke-width="0.35" textLength="32.50" lengthAdjust="spacingAndGlyphs">starts</text>
<rect x="133.75" y="849.20" width="8.8" height="8.6" fill="#e65c0f"/>
<text x="145.95" y="857.80" font-size="12.8" fill="#1a1a1a" stroke="#1a1a1a" stroke-width="0.35" textLength="69.80" lengthAdjust="spacingAndGlyphs"><tspan font-weight="bold">EU</tspan> Jun trade</text>
<text x="133.75" y="872.00" font-size="12.8" fill="#1a1a1a" stroke="#1a1a1a" stroke-width="0.35" textLength="43.25" lengthAdjust="spacingAndGlyphs">balance</text>
<rect x="257" y="783.00" width="8.8" height="8.6" fill="#e65c0f"/>
<text x="269.2" y="791.60" font-size="12.8" fill="#1a1a1a" stroke="#1a1a1a" stroke-width="0.35" textLength="70.80" lengthAdjust="spacingAndGlyphs"><tspan font-weight="bold">AU</tspan> 2Q wage</text>
<text x="257" y="805.80" font-size="12.8" fill="#1a1a1a" stroke="#1a1a1a" stroke-width="0.35" textLength="62.25" lengthAdjust="spacingAndGlyphs">price index</text>
<rect x="257" y="816.10" width="8.8" height="8.6" fill="#e65c0f"/>
<text x="269.2" y="824.70" font-size="12.8" fill="#1a1a1a" stroke="#1a1a1a" stroke-width="0.35" textLength="88.30" lengthAdjust="spacingAndGlyphs"><tspan font-weight="bold">NZ</tspan> RBNZ policy</text>
<text x="257" y="838.90" font-size="12.8" fill="#1a1a1a" stroke="#1a1a1a" stroke-width="0.35" textLength="47.25" lengthAdjust="spacingAndGlyphs">decision</text>
<rect x="257" y="849.20" width="8.8" height="8.6" fill="#e65c0f"/>
<text x="269.2" y="857.80" font-size="12.8" fill="#1a1a1a" stroke="#1a1a1a" stroke-width="0.35" textLength="70.80" lengthAdjust="spacingAndGlyphs"><tspan font-weight="bold">US</tspan> FOMC Jul</text>
<text x="257" y="872.00" font-size="12.8" fill="#1a1a1a" stroke="#1a1a1a" stroke-width="0.35" textLength="97.25" lengthAdjust="spacingAndGlyphs">meeting minutes</text>
<rect x="257" y="882.30" width="8.8" height="8.6" fill="#e65c0f"/>
<text x="269.2" y="890.90" font-size="12.8" fill="#1a1a1a" stroke="#1a1a1a" stroke-width="0.35" textLength="93.30" lengthAdjust="spacingAndGlyphs"><tspan font-weight="bold">UK</tspan> Jul consumer</text>
<text x="257" y="905.10" font-size="12.8" fill="#1a1a1a" stroke="#1a1a1a" stroke-width="0.35" textLength="62.25" lengthAdjust="spacingAndGlyphs">price index</text>
<rect x="379.5" y="783.00" width="8.8" height="8.6" fill="#e65c0f"/>
<text x="391.7" y="791.60" font-size="12.8" fill="#1a1a1a" stroke="#1a1a1a" stroke-width="0.35" textLength="34.55" lengthAdjust="spacingAndGlyphs"><tspan font-weight="bold">AU</tspan> Jul</text>
<text x="379.5" y="805.80" font-size="12.8" fill="#1a1a1a" stroke="#1a1a1a" stroke-width="0.35" textLength="99.25" lengthAdjust="spacingAndGlyphs">employment data</text>
<rect x="379.5" y="816.10" width="8.8" height="8.6" fill="#e65c0f"/>
<text x="391.7" y="824.70" font-size="12.8" fill="#1a1a1a" stroke="#1a1a1a" stroke-width="0.35" textLength="92.05" lengthAdjust="spacingAndGlyphs"><tspan font-weight="bold">EU</tspan> Jul consumer</text>
<text x="379.5" y="838.90" font-size="12.8" fill="#1a1a1a" stroke="#1a1a1a" stroke-width="0.35" textLength="61.75" lengthAdjust="spacingAndGlyphs">price index</text>
<rect x="379.5" y="849.20" width="8.8" height="8.6" fill="#e65c0f"/>
<text x="391.7" y="857.80" font-size="12.8" fill="#1a1a1a" stroke="#1a1a1a" stroke-width="0.35" textLength="93.30" lengthAdjust="spacingAndGlyphs"><tspan font-weight="bold">US</tspan> Initial jobless</text>
<text x="379.5" y="872.00" font-size="12.8" fill="#1a1a1a" stroke="#1a1a1a" stroke-width="0.35" textLength="36.75" lengthAdjust="spacingAndGlyphs">claims</text>
<rect x="502.5" y="783.00" width="8.8" height="8.6" fill="#e65c0f"/>
<text x="514.7" y="791.60" font-size="12.8" fill="#1a1a1a" stroke="#1a1a1a" stroke-width="0.35" textLength="66.55" lengthAdjust="spacingAndGlyphs"><tspan font-weight="bold">NZ</tspan> Jul trade</text>
<text x="502.5" y="805.80" font-size="12.8" fill="#1a1a1a" stroke="#1a1a1a" stroke-width="0.35" textLength="43.00" lengthAdjust="spacingAndGlyphs">balance</text>
<rect x="502.5" y="816.10" width="8.8" height="8.6" fill="#e65c0f"/>
<text x="514.7" y="824.70" font-size="12.8" fill="#1a1a1a" stroke="#1a1a1a" stroke-width="0.35" textLength="49.80" lengthAdjust="spacingAndGlyphs"><tspan font-weight="bold">Japan</tspan> Jul</text>
<text x="502.5" y="838.90" font-size="12.8" fill="#1a1a1a" stroke="#1a1a1a" stroke-width="0.35" textLength="87.00" lengthAdjust="spacingAndGlyphs">consumer price</text>
<text x="502.5" y="853.10" font-size="12.8" fill="#1a1a1a" stroke="#1a1a1a" stroke-width="0.35" textLength="30.50" lengthAdjust="spacingAndGlyphs">index</text>
<text x="616" y="926.5" font-size="11.5" fill="#666" stroke="#666" stroke-width="0.35" text-anchor="end" textLength="118.5" lengthAdjust="spacingAndGlyphs" >SOURCE: WESTPAC, AMP</text>
</svg>
</body></html>
